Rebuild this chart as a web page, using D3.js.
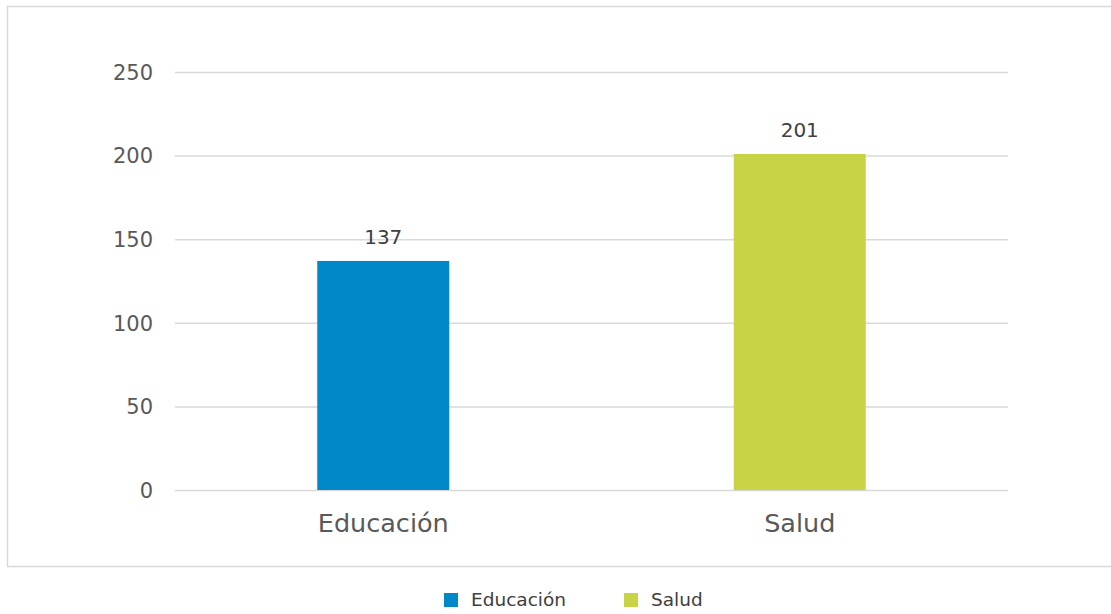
<!DOCTYPE html>
<html><head><meta charset="utf-8">
<script src="https://cdn.jsdelivr.net/npm/d3@7"></script>
<style>
html,body{margin:0;padding:0;background:#fff;}
svg{display:block;font-family:"DejaVu Sans", sans-serif;}
</style></head>
<body><svg id="chart" width="1111" height="614"></svg>
<script>
const categories = ["Educación", "Salud"];
const values = [137, 201];
const colors = ["#0088C9", "#C8D446"];
const yTicks = [0, 50, 100, 150, 200, 250];

const svg = d3.select("#chart");
const plot = {left: 175, right: 1008, top: 72, bottom: 490};

// outer border
svg.append("rect").attr("x", 7.5).attr("y", 6.5).attr("width", 1120).attr("height", 560)
  .attr("fill", "none").attr("stroke", "#d9d9d9").attr("stroke-width", 1.5);

const x = d3.scaleBand().domain(categories).range([plot.left, plot.right]).paddingInner(0).paddingOuter(0);
const y = d3.scaleLinear().domain([0, 250]).range([plot.bottom, plot.top]);

// gridlines
const yAxis = d3.axisLeft(y).tickValues(yTicks).tickSize(-(plot.right - plot.left)).tickPadding(22);
const gy = svg.append("g").attr("transform", `translate(${plot.left},0)`).call(yAxis);
gy.select(".domain").remove();
gy.selectAll(".tick line").attr("stroke", "#d9d9d9").attr("stroke-width", 1.5);
gy.selectAll(".tick text").attr("fill", "#595959").attr("font-size", 21)
  .attr("font-family", "DejaVu Sans, sans-serif").attr("dy", "0.35em");

const barW = 132;
svg.append("g").selectAll("rect").data(categories).join("rect")
  .attr("x", d => x(d) + x.bandwidth() / 2 - barW / 2)
  .attr("width", barW)
  .attr("y", (d, i) => y(values[i]))
  .attr("height", (d, i) => y(0) - y(values[i]))
  .attr("fill", (d, i) => colors[i]);

// value labels
svg.append("g").selectAll("text").data(categories).join("text")
  .attr("x", d => x(d) + x.bandwidth() / 2)
  .attr("y", (d, i) => y(values[i]) - 17)
  .attr("text-anchor", "middle").attr("fill", "#404040").attr("font-size", 20)
  .text((d, i) => values[i]);

// x axis labels
const xAxis = d3.axisBottom(x).tickSize(0).tickPadding(24);
const gx = svg.append("g").attr("transform", `translate(0,${plot.bottom})`).call(xAxis);
gx.select(".domain").remove();
gx.selectAll(".tick text").attr("fill", "#595959").attr("font-size", 25.5)
  .attr("font-family", "DejaVu Sans, sans-serif");

// legend
const legX = [444, 624];
const leg = svg.append("g").selectAll("g").data(categories).join("g")
  .attr("transform", (d, i) => `translate(${legX[i]},593)`);
leg.append("rect").attr("width", 14).attr("height", 14).attr("fill", (d, i) => colors[i]);
leg.append("text").attr("x", 27).attr("y", 7).attr("dy", "0.35em").attr("font-size", 18.5)
  .attr("fill", "#404040").text(d => d);
</script></body></html>
